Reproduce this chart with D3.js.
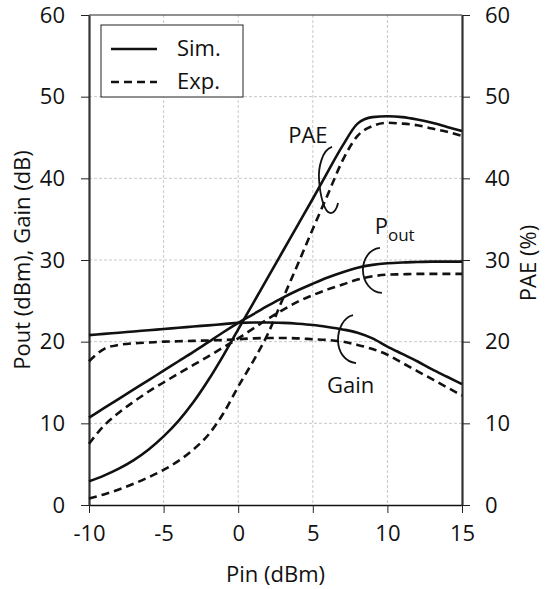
<!DOCTYPE html>
<html>
<head>
<meta charset="utf-8">
<script src="https://cdn.jsdelivr.net/npm/d3@7"></script>
<style>
  body { margin: 0; background: #fff; }
  text { font-family: "Open Sans", "DejaVu Sans", sans-serif; fill: #111; }
</style>
</head>
<body>
<svg id="graph" width="545" height="589"></svg>
<script>
"use strict";

// Pin (dBm) sample points
var pin = [-10, -9, -8, -7, -6, -5, -4, -3, -2, -1, 0, 1, 2, 3, 4, 5, 6, 7, 8, 9, 10, 11, 12, 13, 14, 15];

var gainSim = [20.8, 20.95, 21.1, 21.25, 21.4, 21.55, 21.7, 21.85, 22.0, 22.15, 22.3, 22.35, 22.35, 22.3, 22.2, 22.05,
               21.8, 21.5, 21.1, 20.4, 19.4, 18.5, 17.6, 16.6, 15.7, 14.8];
var gainExp = [17.6, 19.1, 19.6, 19.8, 19.9, 20.0, 20.05, 20.1, 20.15, 20.2, 20.3, 20.4, 20.45, 20.45, 20.4, 20.3,
               20.2, 20.0, 19.6, 19.1, 18.4, 17.4, 16.4, 15.4, 14.4, 13.4];
var poutSim = [10.7, 11.85, 13.0, 14.15, 15.3, 16.45, 17.6, 18.75, 19.95, 21.15, 22.3, 23.35, 24.4, 25.4, 26.3, 27.1,
               27.85, 28.5, 29.05, 29.4, 29.6, 29.7, 29.75, 29.8, 29.8, 29.8];
var poutExp = [7.5, 9.7, 11.3, 12.65, 13.9, 15.0, 16.1, 17.15, 18.2, 19.3, 20.4, 21.6, 22.8, 23.9, 24.9, 25.7,
               26.4, 27.0, 27.6, 28.0, 28.2, 28.25, 28.3, 28.3, 28.3, 28.3];
var paeSim = [2.9, 3.6, 4.45, 5.5, 6.8, 8.4, 10.3, 12.6, 15.3, 18.3, 21.5, 24.7, 27.9, 31.1, 34.3, 37.5,
              40.8, 44.0, 46.7, 47.5, 47.6, 47.5, 47.2, 46.8, 46.3, 45.8];
var paeExp = [0.8, 1.3, 1.9, 2.6, 3.4, 4.3, 5.4, 6.8, 8.6, 11.2, 14.5, 17.6, 21.0, 25.3, 29.5, 33.8,
              38.0, 42.2, 45.2, 46.4, 46.8, 46.7, 46.5, 46.1, 45.7, 45.2];

var xTicks = [-10, -5, 0, 5, 10, 15];
var yTicks = [0, 10, 20, 30, 40, 50, 60];

var legendItems = [{label: "Sim.", dash: null}, {label: "Exp.", dash: "8,5"}];

// curve labels and their brackets, in data units
var labels = [
  {text: "PAE", x: 3.35, y: 44.3},
  {text: "P", sub: "out", x: 9.15, y: 33.2},
  {text: "Gain", x: 5.95, y: 13.7}
];
var brackets = [
  {x: 5.42, y: 39.8, path: "M13,-33 C3,-30 -1,-12 0,0 C1,15 5,32 11,33 C15,34 18,28 19,23"},
  {x: 8.36, y: 28.8, path: "M17,-22 C6,-21 0,-10 0,0 C0,12 8,23 19,23"},
  {x: 6.69, y: 20.2, path: "M15,-25 C5,-23 0,-10 0,0 C0,12 7,22 18,23"}
];

var
  svg = d3.select("#graph"),
  margin = {top: 15, right: 83, bottom: 84, left: 89},
  width = 545 - margin.left - margin.right,
  height = 589 - margin.top - margin.bottom
;

var
  x = d3.scaleLinear().domain([-10, 15]).range([0, width]),
  y = d3.scaleLinear().domain([0, 60]).range([height, 0])
;

var plot = svg.append("g")
  .attr("transform", "translate(" + margin.left + "," + margin.top + ")");

// grid
plot.append("g")
  .selectAll("line")
  .data(xTicks.slice(1, -1))
  .join("line")
    .attr("x1", d => x(d)).attr("x2", d => x(d))
    .attr("y1", 0).attr("y2", height)
    .attr("stroke", "#c8c8c8").attr("stroke-dasharray", "3,2");
plot.append("g")
  .selectAll("line")
  .data(yTicks.slice(1, -1))
  .join("line")
    .attr("x1", 0).attr("x2", width)
    .attr("y1", d => y(d)).attr("y2", d => y(d))
    .attr("stroke", "#c8c8c8").attr("stroke-dasharray", "3,2");

// axes
function styleAxis(g) {
  g.selectAll("text").style("font-size", "22px").attr("fill", "#111");
  g.selectAll("line").attr("stroke", "#222");
}
var plain = d => String(d);

plot.append("g")
  .attr("transform", "translate(0," + height + ")")
  .call(d3.axisBottom(x).tickValues(xTicks).tickFormat(plain).tickSize(8).tickPadding(12).tickSizeOuter(0))
  .call(styleAxis)
  .call(g => g.select(".domain").attr("stroke", "#111").attr("stroke-width", 1.5));

plot.append("g")
  .call(d3.axisLeft(y).tickValues(yTicks).tickFormat(plain).tickSize(8).tickPadding(16).tickSizeOuter(0))
  .call(styleAxis)
  .call(g => g.select(".domain").attr("stroke", "#333").attr("stroke-width", 2.2));

plot.append("g")
  .attr("transform", "translate(" + width + ",0)")
  .call(d3.axisRight(y).tickValues(yTicks).tickFormat(plain).tickSize(8).tickPadding(15).tickSizeOuter(0))
  .call(styleAxis)
  .call(g => g.select(".domain").attr("stroke", "#333").attr("stroke-width", 2.2));

// top border
plot.append("line")
  .attr("x1", 0).attr("x2", width).attr("y1", 0).attr("y2", 0)
  .attr("stroke", "#222").attr("stroke-width", 1);

// curves
var line = d3.line()
  .x(d => x(d[0]))
  .y(d => y(d[1]))
  .curve(d3.curveMonotoneX);

var series = [
  {values: gainSim, dash: null},
  {values: gainExp, dash: "8,5"},
  {values: poutSim, dash: null},
  {values: poutExp, dash: "8,5"},
  {values: paeSim, dash: null},
  {values: paeExp, dash: "8,5"}
];

plot.append("g")
  .selectAll("path")
  .data(series)
  .join("path")
    .attr("d", s => line(pin.map((p, i) => [p, s.values[i]])))
    .attr("fill", "none")
    .attr("stroke", "#111")
    .attr("stroke-width", 2.6)
    .attr("stroke-dasharray", s => s.dash);

// brackets + labels
plot.append("g")
  .selectAll("path")
  .data(brackets)
  .join("path")
    .attr("transform", d => "translate(" + x(d.x) + "," + y(d.y) + ")")
    .attr("d", d => d.path)
    .attr("fill", "none")
    .attr("stroke", "#111")
    .attr("stroke-width", 1.8);

var lab = plot.append("g")
  .selectAll("text")
  .data(labels)
  .join("text")
    .attr("x", d => x(d.x))
    .attr("y", d => y(d.y))
    .style("font-size", "22px")
    .text(d => d.text);
lab.filter(d => d.sub)
  .append("tspan")
    .attr("dy", 7)
    .style("font-size", "17px")
    .text(d => d.sub);

// legend
var legend = plot.append("g").attr("transform", "translate(12,10)");
legend.append("rect")
  .attr("x", 0).attr("y", 0).attr("width", 142).attr("height", 72)
  .attr("fill", "#fff").attr("stroke", "#222").attr("stroke-width", 1);
var li = legend.selectAll("g.item")
  .data(legendItems)
  .join("g")
    .attr("class", "item")
    .attr("transform", (d, i) => "translate(0," + (24 + i * 33) + ")");
li.append("line")
  .attr("x1", 10).attr("x2", 56).attr("y1", 0).attr("y2", 0)
  .attr("stroke", "#111").attr("stroke-width", 2.6)
  .attr("stroke-dasharray", d => d.dash);
li.append("text")
  .attr("x", 76).attr("y", 7)
  .style("font-size", "22px")
  .text(d => d.label);

// axis titles
svg.append("text")
  .attr("text-anchor", "middle")
  .attr("x", margin.left + width / 2)
  .attr("y", 582)
  .style("font-size", "22px")
  .text("Pin (dBm)");

svg.append("text")
  .attr("text-anchor", "middle")
  .attr("transform", "translate(30," + (margin.top + height / 2) + ") rotate(-90)")
  .style("font-size", "22px")
  .text("Pout (dBm), Gain (dB)");

svg.append("text")
  .attr("text-anchor", "middle")
  .attr("transform", "translate(536," + (margin.top + height / 2 + 3) + ") rotate(-90)")
  .style("font-size", "22px")
  .text("PAE (%)");
</script>
</body>
</html>
